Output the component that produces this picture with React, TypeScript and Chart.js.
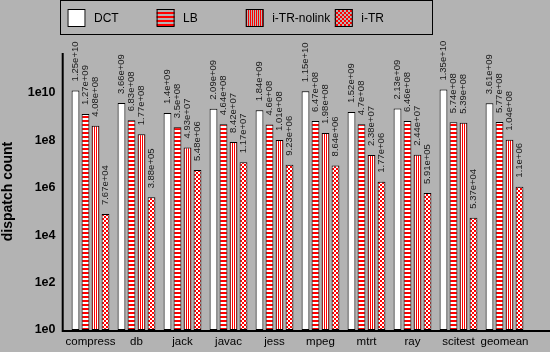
import React, { useEffect, useRef } from 'react';
import { Chart, registerables } from 'chart.js';

Chart.register(...registerables);

const categories = ['compress', 'db', 'jack', 'javac', 'jess', 'mpeg', 'mtrt', 'ray', 'scitest', 'geomean'];
const seriesNames = ['DCT', 'LB', 'i-TR-nolink', 'i-TR'];
const dctValues = [1.25e10, 3.66e9, 1.4e9, 2.09e9, 1.84e9, 1.15e10, 1.52e9, 2.13e9, 1.35e10, 3.61e9];
const lbValues = [1.27e9, 6.83e8, 3.5e8, 4.64e8, 4.6e8, 6.47e8, 4.7e8, 6.46e8, 5.74e8, 5.77e8];
const nolinkValues = [4.08e8, 1.77e8, 4.93e7, 8.42e7, 1.01e8, 1.98e8, 2.38e7, 2.44e7, 5.39e8, 1.04e8];
const itrValues = [7.67e4, 3.88e5, 5.48e6, 1.17e7, 9.23e6, 8.64e6, 1.77e6, 5.91e5, 5.37e4, 1.1e6];
const yTickValues = [1, 1e2, 1e4, 1e6, 1e8, 1e10];
const yMin = 1;
const yMax = 4.7e11;
const yTitle = 'dispatch count';

const RED = '#ff0000';
const BG = '#b3b3b3';
const FONT = "'Liberation Sans', Arial, sans-serif";

function formatValue(v: number): string {
  const [m, e] = v.toExponential().split('e');
  const sign = e[0] === '-' ? '-' : '+';
  const digits = e.replace(/[+-]/, '').padStart(2, '0');
  return `${m}e${sign}${digits}`;
}

function makePattern(kind: string, bg: string | null): CanvasPattern | string {
  if (kind === 'plain') return bg || '#ffffff';
  const c = document.createElement('canvas');
  let w = 4, h = 4;
  if (kind === 'h') { w = 1; h = 4; }
  else if (kind === 'v') { w = 2; h = 1; }
  c.width = w; c.height = h;
  const g = c.getContext('2d')!;
  if (bg) { g.fillStyle = bg; g.fillRect(0, 0, w, h); }
  g.fillStyle = RED;
  if (kind === 'h') g.fillRect(0, 0, 1, 2);
  if (kind === 'v') g.fillRect(0, 0, 1, 1);
  if (kind === 'c') { g.fillRect(0, 0, 2, 2); g.fillRect(2, 2, 2, 2); }
  return g.createPattern(c, 'repeat')!;
}

const kinds = ['plain', 'h', 'v', 'c'];

export default function App() {
  const ref = useRef<HTMLCanvasElement>(null);

  useEffect(() => {
    document.body.style.margin = '0';
    document.body.style.background = BG;
    const barFills = kinds.map((k) => makePattern(k, '#ffffff'));
    const legendFills = kinds.map((k) => (k === 'plain' ? '#ffffff' : makePattern(k, null)));
    const seriesValues = [dctValues, lbValues, nolinkValues, itrValues];

    const valueLabels = {
      id: 'valueLabels',
      afterDatasetsDraw(chart: any) {
        const ctx = chart.ctx;
        ctx.save();
        ctx.font = `9.5px ${FONT}`;
        ctx.fillStyle = '#1a1a1a';
        ctx.textAlign = 'left';
        ctx.textBaseline = 'middle';
        chart.data.datasets.forEach((ds: any, di: number) => {
          const meta = chart.getDatasetMeta(di);
          meta.data.forEach((el: any, i: number) => {
            ctx.save();
            ctx.translate(el.x, el.y - 9);
            ctx.rotate(-Math.PI / 2);
            ctx.fillText(formatValue(ds.data[i]), 0, 0);
            ctx.restore();
          });
        });
        ctx.restore();
      },
    };

    const axesAndLegend = {
      id: 'axesAndLegend',
      afterDraw(chart: any) {
        const ctx = chart.ctx;
        const a = chart.chartArea;
        ctx.save();
        ctx.strokeStyle = '#000';
        ctx.lineWidth = 2;
        ctx.beginPath();
        ctx.moveTo(62.7, a.top);
        ctx.lineTo(62.7, a.bottom + 2);
        ctx.moveTo(61.7, a.bottom + 1);
        ctx.lineTo(550, a.bottom + 1);
        ctx.stroke();

        // legend
        ctx.lineWidth = 1;
        ctx.strokeRect(60.5, 0.5, 372, 34);
        ctx.font = `12px ${FONT}`;
        ctx.textBaseline = 'middle';
        ctx.textAlign = 'left';
        seriesNames.forEach((name, i) => {
          const x = 67.5 + i * 89.1;
          ctx.fillStyle = legendFills[i];
          ctx.fillRect(x, 9, 18, 18);
          ctx.strokeStyle = '#000';
          ctx.strokeRect(x + 0.5, 9.5, 17, 17);
          ctx.fillStyle = '#000';
          ctx.fillText(name, x + 26.5, 18.5);
        });
        ctx.restore();
      },
    };

    const chart = new Chart(ref.current!, {
      type: 'bar',
      data: {
        labels: categories,
        datasets: seriesNames.map((name, i) => ({
          label: name,
          data: seriesValues[i],
          backgroundColor: barFills[i] as any,
          borderColor: '#000',
          borderWidth: 1,
          borderSkipped: false,
          categoryPercentage: 40 / 46,
          barPercentage: 0.78,
        })),
      },
      options: {
        responsive: false,
        animation: false,
        devicePixelRatio: 1,
        layout: { padding: { top: 53, bottom: 0, left: 0, right: 22.5 } },
        plugins: { legend: { display: false }, tooltip: { enabled: false } },
        scales: {
          x: {
            grid: { display: false, drawTicks: false },
            border: { display: false },
            ticks: { color: '#000', font: { family: FONT, size: 11.5 }, padding: 5, autoSkip: false, maxRotation: 0 },
            afterFit: (s: any) => { s.height = 22; },
          },
          y: {
            type: 'logarithmic',
            min: yMin,
            max: yMax,
            grid: { display: false, drawTicks: false },
            border: { display: false },
            afterBuildTicks: (s: any) => { s.ticks = yTickValues.map((v) => ({ value: v })); },
            ticks: {
              color: '#000',
              font: { family: FONT, size: 12.5, weight: 'bold' },
              padding: 12,
              callback: (v: any) => '1e' + Math.round(Math.log10(Number(v))),
            },
            title: {
              display: true,
              text: yTitle,
              color: '#000',
              font: { family: FONT, size: 14, weight: 'bold' },
              padding: 0,
            },
            afterFit: (s: any) => { s.width = 67.5; },
          },
        },
      },
      plugins: [valueLabels, axesAndLegend],
    } as any);
    return () => chart.destroy();
  }, []);

  return (
    <div style={{ position: 'fixed', left: 0, top: 0, width: 550, height: 352, background: BG }}>
      <canvas ref={ref} width={550} height={352} style={{ display: 'block', width: 550, height: 352 }} />
    </div>
  );
}
